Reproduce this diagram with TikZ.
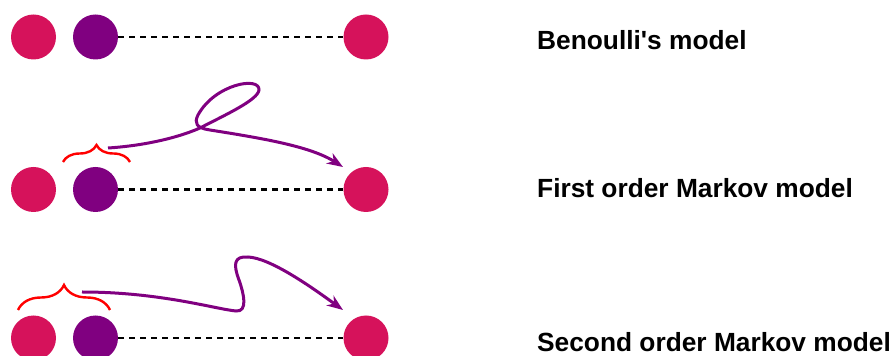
\documentclass[tikz,border=0pt]{standalone}
\usepackage{fontspec}
\setmainfont{Liberation Sans}
\usetikzlibrary{arrows.meta, decorations.pathreplacing}
\definecolor{dotpink}{HTML}{D6125B}
\definecolor{dotpurple}{HTML}{800080}

\begin{document}
\begin{tikzpicture}[x=1pt, y=1pt,
    dot/.style={circle, inner sep=0pt, minimum size=45pt},
    link/.style={dash pattern=on 6pt off 5pt, line width=2.6pt},
    flow/.style={dotpurple, line width=3pt, -{Stealth[length=16pt, width=12pt, inset=5pt]}},
    curly/.style={red, line width=2.4pt, decorate, decoration={brace, amplitude=#1}},
    caption/.style={anchor=base west, inner sep=0pt, font=\fontsize{26.3}{30}\selectfont\bfseries}]
    \useasboundingbox (0, 0) rectangle (895, 356);

    \node[dot, fill=dotpink] (b1) at (33.5, 319) {};
    \node[dot, fill=dotpurple] (b2) at (95.5, 319) {};
    \node[dot, fill=dotpink] (b3) at (366, 319) {};
    \draw[link] (b2) -- (b3);
    \node[caption] (bname) at (537, 306) {Benoulli\textquotesingle s model};

    \node[dot, fill=dotpink] (f1) at (33.5, 166.5) {};
    \node[dot, fill=dotpurple] (f2) at (95.5, 166.5) {};
    \node[dot, fill=dotpink] (f3) at (366, 166.5) {};
    \draw[link] (f2) -- (f3);
    \node[caption] (fname) at (537, 158) {First order Markov model};
    \draw[curly=17pt] (63, 194) -- (130, 194);
    \coordinate (ffrom) at (108, 208);
    \coordinate (fto) at (343, 189);
    \draw[flow] (ffrom) .. controls (140, 210) and (175, 217) .. (200, 228)
        .. controls (225, 241) and (258, 256) .. (259, 266)
        .. controls (260, 280) and (215, 272) .. (198, 241)
        .. controls (194, 233) and (196, 228) .. (210, 226)
        .. controls (260, 218) and (310, 210) .. (fto);

    \node[dot, fill=dotpink] (s1) at (33.5, 18) {};
    \node[dot, fill=dotpurple] (s2) at (95.5, 18) {};
    \node[dot, fill=dotpink] (s3) at (366, 18) {};
    \draw[link] (s2) -- (s3);
    \node[caption] (sname) at (537, 4) {Second order Markov model};
    \draw[curly=25pt] (18, 46) -- (110, 46);
    \coordinate (sfrom) at (82, 64);
    \coordinate (sto) at (343, 46);
    \draw[flow] (sfrom) .. controls (160, 64) and (215, 47) .. (236, 45)
        .. controls (248, 44) and (244, 62) .. (239, 76)
        .. controls (233, 92) and (234, 100) .. (248, 99)
        .. controls (270, 98) and (310, 70) .. (sto);
\end{tikzpicture}
\end{document}
